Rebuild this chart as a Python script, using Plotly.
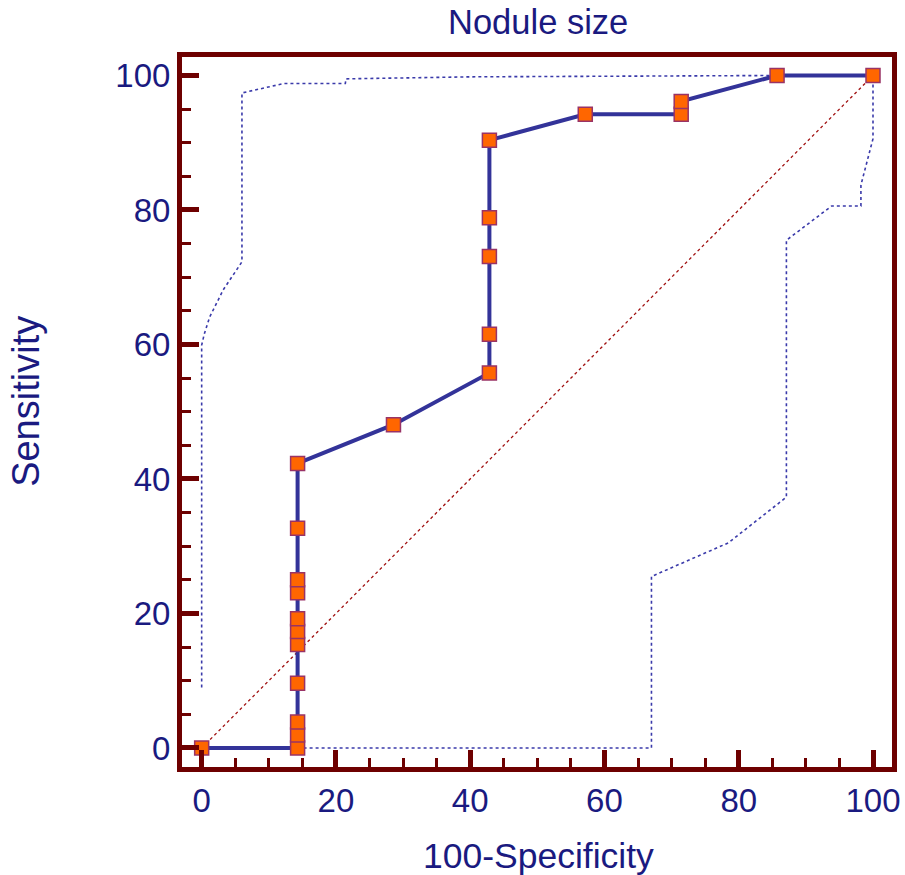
import plotly.graph_objects as go

# ROC curve points (100-Specificity, Sensitivity)
roc_x = [0, 14.29, 14.29, 14.29, 14.29, 14.29, 14.29, 14.29, 14.29, 14.29, 14.29, 14.29,
         28.57, 42.86, 42.86, 42.86, 42.86, 42.86, 57.14, 71.43, 71.43, 85.71, 100]
roc_y = [0, 0, 1.92, 3.85, 9.62, 15.38, 17.31, 19.23, 23.08, 25.0, 32.69, 42.31,
         48.08, 55.77, 61.54, 73.08, 78.85, 90.38, 94.23, 94.23, 96.15, 100, 100]

# Upper confidence bound
up_x = [0, 0, 0.4, 1.2, 3.2, 6.0, 6.0, 12.2, 21.4, 21.5, 40, 85.71]
up_y = [9.0, 59.9, 61.6, 64.1, 68.1, 72.3, 97.4, 98.8, 98.8, 99.5, 99.8, 100]

# Lower confidence bound
lo_x = [14.29, 67.0, 67.0, 78.45, 87.1, 87.1, 93.85, 98.2, 98.2, 100, 100]
lo_y = [0, 0, 25.5, 30.5, 37.3, 75.5, 80.6, 80.6, 83.7, 90.6, 100]

# Reference diagonal
diag_x = [0, 100]
diag_y = [0, 100]

tick_vals = [0, 20, 40, 60, 80, 100]

NAVY = "#1a1a80"
FRAME = "#6e0000"
FONT = "Liberation Sans, Arial, sans-serif"

fig = go.Figure()
fig.add_trace(go.Scatter(x=diag_x, y=diag_y, mode="lines",
                         line=dict(color="#a01010", width=1.3, dash="dot"),
                         hoverinfo="skip"))
fig.add_trace(go.Scatter(x=up_x, y=up_y, mode="lines",
                         line=dict(color="#3a3aaa", width=1.6, dash="dot"),
                         hoverinfo="skip"))
fig.add_trace(go.Scatter(x=lo_x, y=lo_y, mode="lines",
                         line=dict(color="#3a3aaa", width=1.6, dash="dot"),
                         hoverinfo="skip"))
fig.add_trace(go.Scatter(x=roc_x, y=roc_y, mode="lines+markers",
                         line=dict(color="#333399", width=4),
                         marker=dict(symbol="square", size=14, color="#ff6600",
                                     line=dict(color="#993366", width=1.5)),
                         cliponaxis=False))

axis_common = dict(
    automargin=False,
    showgrid=False, zeroline=False,
    showline=True, linecolor=FRAME, linewidth=5, mirror=True,
    ticks="inside", ticklen=17, tickwidth=5, tickcolor=FRAME,
    tickvals=tick_vals,
    tickfont=dict(family=FONT, size=33, color=NAVY),
    minor=dict(dtick=5, tick0=0, ticks="inside", ticklen=9, tickwidth=3, tickcolor=FRAME),
)

fig.update_layout(
    template="none",
    width=905, height=875,
    margin=dict(l=182, r=13, t=57, b=108, autoexpand=False),
    paper_bgcolor="white", plot_bgcolor="white",
    showlegend=False,
    xaxis=dict(range=[-2.93, 102.83], **axis_common),
    yaxis=dict(range=[-2.83, 102.75], **axis_common),
    annotations=[
        dict(text="Nodule size", xref="paper", yref="paper", x=0.502, y=1.049,
             xanchor="center", yanchor="middle", showarrow=False,
             font=dict(family=FONT, size=34.5, color=NAVY)),
        dict(text="100-Specificity", xref="paper", yref="paper", x=0.502, y=-0.126,
             xanchor="center", yanchor="middle", showarrow=False,
             font=dict(family=FONT, size=35.5, color=NAVY)),
        dict(text="Sensitivity", xref="paper", yref="paper", x=-0.219, y=0.515,
             xanchor="center", yanchor="middle", showarrow=False, textangle=-90,
             font=dict(family=FONT, size=38, color=NAVY)),
    ],
)

fig.write_html("out.html")
